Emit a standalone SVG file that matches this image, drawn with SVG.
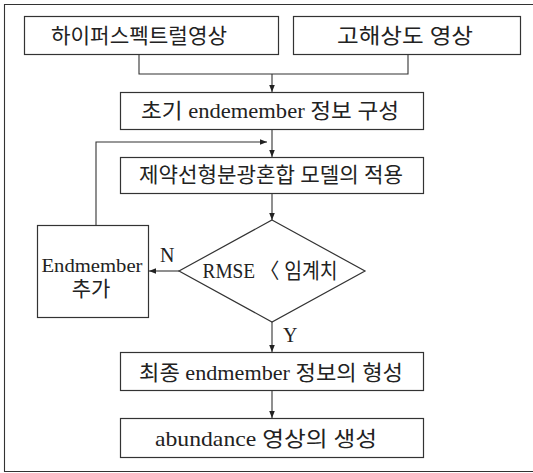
<svg xmlns="http://www.w3.org/2000/svg" width="533" height="473" viewBox="0 0 533 473">
<defs>
<marker id="ah" viewBox="0 0 10 10" refX="10" refY="5" markerWidth="7" markerHeight="7" markerUnits="userSpaceOnUse" orient="auto">
<path d="M0,1 L10,5 L0,9 Z" fill="#222"/>
</marker>
<style>
.box{fill:#fff;stroke:#333;stroke-width:1.2}
.ln{fill:none;stroke:#333;stroke-width:1.1}
.t{font-family:"Liberation Serif","Noto Sans CJK KR",serif;font-size:21px;fill:#222;text-anchor:middle}
.e{font-family:"Liberation Serif","Noto Sans CJK KR",serif;font-size:18px;fill:#222;text-anchor:middle}
.s{font-family:"Liberation Serif","Noto Sans CJK KR",serif;font-size:20px;fill:#222}
</style>
</defs>
<rect width="533" height="473" fill="#fff"/>
<path class="ln" d="M533,4.5 H4.5 V471.5 H533" stroke="#444"/>
<g id="connectors">
<path class="ln" d="M139,54 V74 H408 V54"/>
<path class="ln" d="M272,74 V92" marker-end="url(#ah)"/>
<path class="ln" d="M272,129 V157" marker-end="url(#ah)"/>
<path class="ln" d="M96,225 V142 H267" marker-end="url(#ah)"/>
<path class="ln" d="M272,193 V220" marker-end="url(#ah)"/>
<path class="ln" d="M179,271 H149" marker-end="url(#ah)"/>
<path class="ln" d="M272,322 V352" marker-end="url(#ah)"/>
<path class="ln" d="M272,390 V418" marker-end="url(#ah)"/>
<text class="s" x="160" y="262">N</text>
<text class="s" x="283" y="342">Y</text>
</g>
<g id="n1">
<rect class="box" x="24.5" y="16.5" width="254" height="38"/>
<text class="t" x="139" y="43" textLength="176" lengthAdjust="spacingAndGlyphs">하이퍼스펙트럴영상</text>
</g>
<g id="n2">
<rect class="box" x="293.5" y="16.5" width="227" height="38"/>
<text class="t" x="405" y="43" textLength="136" lengthAdjust="spacingAndGlyphs">고해상도 영상</text>
</g>
<g id="n3">
<rect class="box" x="120.5" y="92.5" width="303" height="37"/>
<text class="t" x="270" y="118" textLength="258" lengthAdjust="spacingAndGlyphs">초기 endemember 정보 구성</text>
</g>
<g id="n4">
<rect class="box" x="120.5" y="157.5" width="303" height="36"/>
<text class="t" x="271" y="182" textLength="264" lengthAdjust="spacingAndGlyphs">제약선형분광혼합 모델의 적용</text>
</g>
<g id="n5">
<path class="box" d="M272,220 L365,271 L272,322 L179,271 Z"/>
<text class="t" x="270" y="278" textLength="135" lengthAdjust="spacingAndGlyphs">RMSE 〈 임계치</text>
</g>
<g id="n6">
<rect class="box" x="37.5" y="225.5" width="111" height="92"/>
<text class="e" x="92" y="272" textLength="101" lengthAdjust="spacingAndGlyphs">Endmember</text>
<text class="t" x="91" y="296">추가</text>
</g>
<g id="n7">
<rect class="box" x="120.5" y="352.5" width="303" height="38"/>
<text class="t" x="271" y="380" textLength="264" lengthAdjust="spacingAndGlyphs">최종 endmember 정보의 형성</text>
</g>
<g id="n8">
<rect class="box" x="120.5" y="418.5" width="303" height="39"/>
<text class="t" x="266" y="446" textLength="222" lengthAdjust="spacingAndGlyphs">abundance 영상의 생성</text>
</g>
</svg>
